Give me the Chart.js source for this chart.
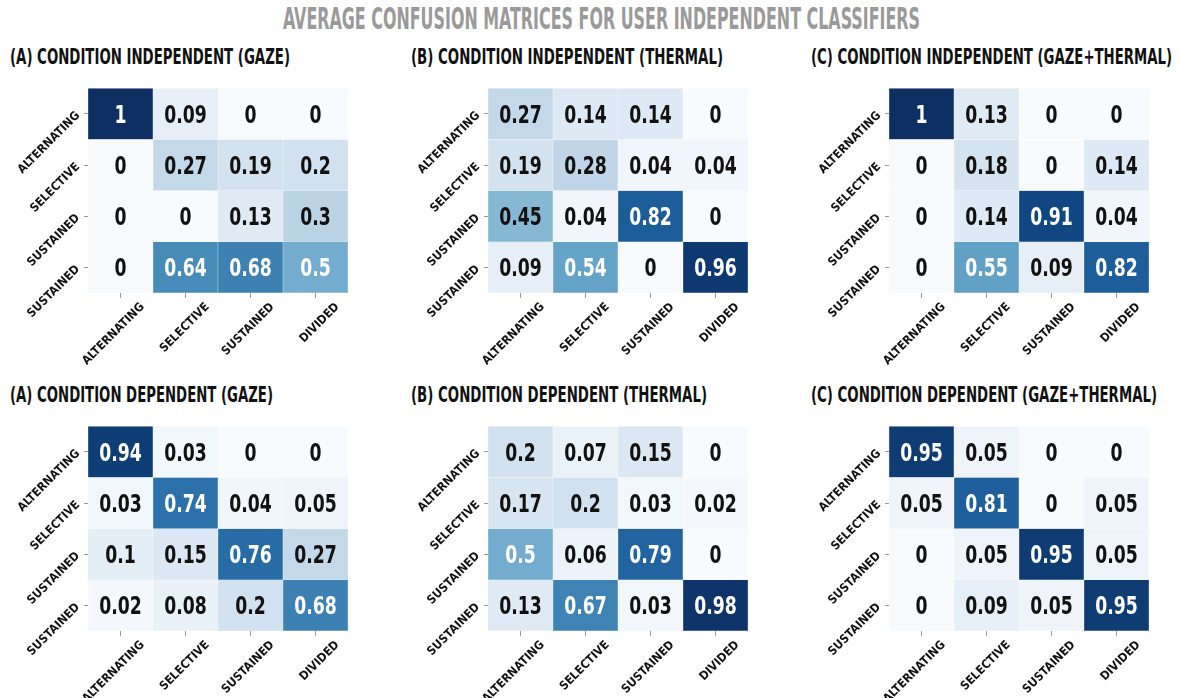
<!DOCTYPE html>
<html>
<head>
<meta charset="utf-8">
<title>Average confusion matrices</title>
<script src="https://cdn.jsdelivr.net/npm/chart.js@4.4.1/dist/chart.umd.min.js"></script>
<style>
  body {
    margin: 0;
    background: #fff;
    width: 1180px;
    height: 698px;
    position: relative;
    overflow: hidden;
    font-family: 'Liberation Sans Narrow', 'DejaVu Sans Condensed', sans-serif;
    font-weight: bold;
  }
  .ttl {
    position: absolute;
    white-space: nowrap;
    line-height: 1;
    transform-origin: 0 0;
  }
  #main { color: #9a9a9a; font-size: 30px; top: 4px; left: 283px; }
  .sub { color: #111; font-size: 21px; }
  .panel { position: absolute; }
</style>
</head>
<body>
<div id="main" class="ttl" data-w="637">AVERAGE CONFUSION MATRICES FOR USER INDEPENDENT CLASSIFIERS</div>

<div class="ttl sub" style="left:10px;top:47px" data-w="280">(A) CONDITION INDEPENDENT (GAZE)</div>
<div class="ttl sub" style="left:411px;top:47px" data-w="312">(B) CONDITION INDEPENDENT (THERMAL)</div>
<div class="ttl sub" style="left:811px;top:47px" data-w="361">(C) CONDITION INDEPENDENT (GAZE+THERMAL)</div>
<div class="ttl sub" style="left:10px;top:385px" data-w="263">(A) CONDITION DEPENDENT (GAZE)</div>
<div class="ttl sub" style="left:411px;top:385px" data-w="296">(B) CONDITION DEPENDENT (THERMAL)</div>
<div class="ttl sub" style="left:811px;top:385px" data-w="346">(C) CONDITION DEPENDENT (GAZE+THERMAL)</div>

<canvas id="indepGaze" class="panel" width="360" height="293" style="left:0px;top:75px"></canvas>
<canvas id="indepThermal" class="panel" width="360" height="293" style="left:400px;top:75px"></canvas>
<canvas id="indepBoth" class="panel" width="360" height="293" style="left:801px;top:75px"></canvas>
<canvas id="depGaze" class="panel" width="360" height="285" style="left:0px;top:413px"></canvas>
<canvas id="depThermal" class="panel" width="360" height="285" style="left:400px;top:413px"></canvas>
<canvas id="depBoth" class="panel" width="360" height="285" style="left:801px;top:413px"></canvas>

<script>
// Class labels (rows = true, columns = predicted)
const rowLabels = ['ALTERNATING', 'SELECTIVE', 'SUSTAINED', 'SUSTAINED'];
const colLabels = ['ALTERNATING', 'SELECTIVE', 'SUSTAINED', 'DIVIDED'];

// Condition independent
const indepGaze = [
    [1, 0.09, 0, 0],
    [0, 0.27, 0.19, 0.2],
    [0, 0, 0.13, 0.3],
    [0, 0.64, 0.68, 0.5]
];
const indepThermal = [
    [0.27, 0.14, 0.14, 0],
    [0.19, 0.28, 0.04, 0.04],
    [0.45, 0.04, 0.82, 0],
    [0.09, 0.54, 0, 0.96]
];
const indepBoth = [
    [1, 0.13, 0, 0],
    [0, 0.18, 0, 0.14],
    [0, 0.14, 0.91, 0.04],
    [0, 0.55, 0.09, 0.82]
];

// Condition dependent
const depGaze = [
    [0.94, 0.03, 0, 0],
    [0.03, 0.74, 0.04, 0.05],
    [0.1, 0.15, 0.76, 0.27],
    [0.02, 0.08, 0.2, 0.68]
];
const depThermal = [
    [0.2, 0.07, 0.15, 0],
    [0.17, 0.2, 0.03, 0.02],
    [0.5, 0.06, 0.79, 0],
    [0.13, 0.67, 0.03, 0.98]
];
const depBoth = [
    [0.95, 0.05, 0, 0],
    [0.05, 0.81, 0, 0.05],
    [0, 0.05, 0.95, 0.05],
    [0, 0.09, 0.05, 0.95]
];

const FONT = "'Liberation Sans Narrow', 'DejaVu Sans Condensed', sans-serif";
const CELLS_HEIGHT = 213;   // height of the 4 rows of cells, px
const TOP_PAD = 5;

// matplotlib "Blues" colormap stops
const BLUES = [
    [247, 251, 255], [222, 235, 247], [198, 219, 239], [158, 202, 225],
    [107, 174, 214], [66, 146, 198], [33, 113, 181], [8, 81, 156], [8, 48, 107]
];

function blues(v) {
    const t = Math.max(0, Math.min(1, v)) * (BLUES.length - 1);
    const i = Math.min(Math.floor(t), BLUES.length - 2);
    const f = t - i;
    const rgb = BLUES[i].map((c, k) => c + (BLUES[i + 1][k] - c) * f);
    // the figure is a little greyer than the plain colormap
    const g = 0.3 * rgb[0] + 0.59 * rgb[1] + 0.11 * rgb[2];
    return rgb.map(c => Math.round(c * 0.85 + g * 0.15));
}

function luminance(rgb) {
    const lin = rgb.map(c => {
        c = c / 255;
        return c <= 0.03928 ? c / 12.92 : Math.pow((c + 0.055) / 1.055, 2.4);
    });
    return 0.2126 * lin[0] + 0.7152 * lin[1] + 0.0722 * lin[2];
}

// Writes the value in the middle of every cell
const cellText = {
    id: 'cellText',
    afterDatasetsDraw(chart) {
        const ctx = chart.ctx;
        chart.data.datasets.forEach((ds, r) => {
            chart.getDatasetMeta(r).data.forEach((bar, c) => {
                const v = ds.values[c];
                const cy = (bar.y + bar.base) / 2;
                ctx.save();
                ctx.translate(bar.x, cy);
                ctx.scale(0.8, 1);
                ctx.font = 'bold 24px ' + FONT;
                ctx.textAlign = 'center';
                ctx.textBaseline = 'alphabetic';
                ctx.fillStyle = luminance(blues(v)) > 0.408 ? '#111' : '#fff';
                ctx.fillText(String(v), 0, 9);
                ctx.restore();
            });
        });
    }
};

function drawMatrix(id, matrix) {
    const canvas = document.getElementById(id);
    const xAxisHeight = canvas.height - TOP_PAD - CELLS_HEIGHT;

    const datasets = matrix.map((row, r) => ({
        label: rowLabels[r],
        data: row.map(() => 1),      // every cell is one row tall
        values: row,
        backgroundColor: row.map(v => 'rgb(' + blues(v).join(',') + ')'),
        borderColor: 'rgba(255,255,255,0.35)',
        borderWidth: 0.5,
        barPercentage: 1,
        categoryPercentage: 1
    }));

    const tickFont = { family: FONT, size: 12, weight: 'bold' };

    new Chart(canvas, {
        type: 'bar',
        data: { labels: colLabels, datasets: datasets },
        options: {
            responsive: false,
            animation: false,
            layout: { padding: { top: TOP_PAD, right: 12, left: 0, bottom: 0 } },
            plugins: {
                legend: { display: false },
                tooltip: { enabled: false }
            },
            scales: {
                x: {
                    stacked: true,
                    border: { display: false },
                    grid: { offset: false, drawOnChartArea: false, tickLength: 5, color: '#9a9a9a' },
                    ticks: { minRotation: 45, maxRotation: 45, labelOffset: 22, padding: 2, color: '#111', font: tickFont },
                    afterFit: s => { s.height = xAxisHeight; }
                },
                y: {
                    stacked: true,
                    reverse: true,
                    min: 0,
                    max: 4,
                    border: { display: false },
                    grid: { drawOnChartArea: false, tickLength: 4, color: '#9a9a9a' },
                    afterBuildTicks: s => { s.ticks = [0.5, 1.5, 2.5, 3.5].map(v => ({ value: v })); },
                    ticks: {
                        minRotation: 45, maxRotation: 45, padding: 6, color: '#111', font: tickFont,
                        callback: (v, i) => rowLabels[i]
                    },
                    afterFit: s => { s.width = 88; }
                }
            }
        },
        plugins: [cellText]
    });
}

drawMatrix('indepGaze', indepGaze);
drawMatrix('indepThermal', indepThermal);
drawMatrix('indepBoth', indepBoth);
drawMatrix('depGaze', depGaze);
drawMatrix('depThermal', depThermal);
drawMatrix('depBoth', depBoth);

// Condense the titles to the width they have in the figure
document.querySelectorAll('.ttl').forEach(el => {
    const w = el.getBoundingClientRect().width;
    el.style.transform = 'scaleX(' + (el.dataset.w / w) + ')';
});
</script>
</body>
</html>
